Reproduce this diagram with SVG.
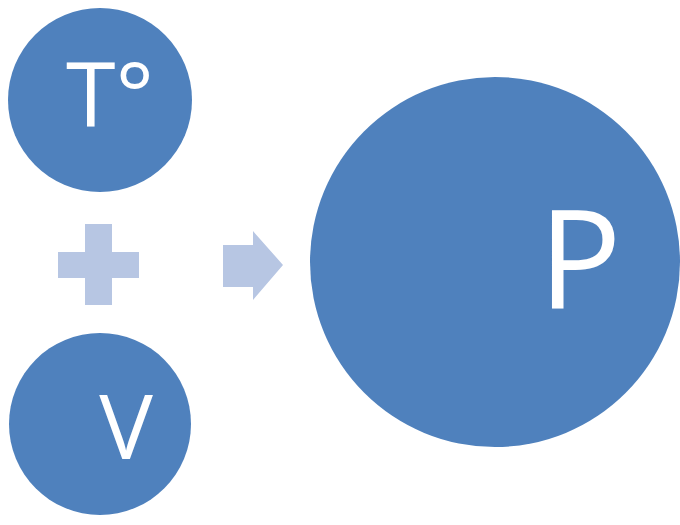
<svg xmlns="http://www.w3.org/2000/svg" width="680" height="525" viewBox="0 0 680 525">
<style>
.node{fill:#4F81BD}
.lbl{fill:#FFFFFF;font-family:"Open Sans","Liberation Sans",sans-serif;text-anchor:middle}
.sym{fill:#B7C6E3}
</style>
<rect width="680" height="525" fill="#FFFFFF"/>
<g id="node-T">
<circle class="node" cx="100" cy="100" r="92"/>
<text class="lbl" x="110" y="127" font-size="90">T°</text>
</g>
<g id="node-V">
<circle class="node" cx="100" cy="424" r="91"/>
<text class="lbl" x="126" y="459" font-size="90">V</text>
</g>
<g id="node-P">
<circle class="node" cx="495" cy="262" r="185"/>
<text class="lbl" x="580" y="309" font-size="138">P</text>
</g>
<g id="connectors">
<path class="sym" d="M85,224 H112 V252 H139 V278 H112 V305 H85 V278 H58 V252 H85 Z"/>
<path class="sym" d="M223,245 H253 V231 L283,265 L253,300 V287 H223 Z"/>
</g>
</svg>
